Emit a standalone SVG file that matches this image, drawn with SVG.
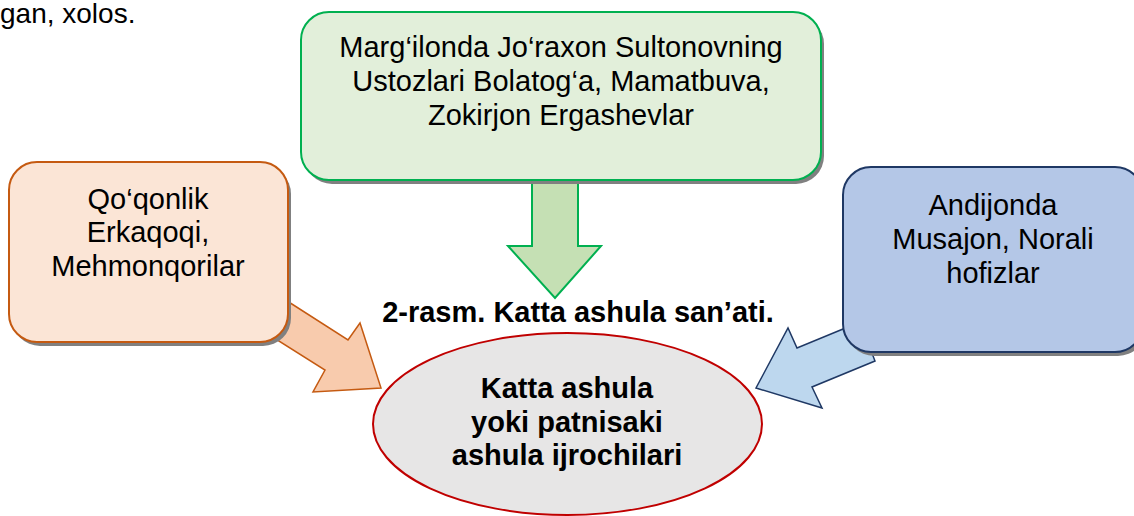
<svg xmlns="http://www.w3.org/2000/svg" width="1134" height="516" viewBox="0 0 1134 516">
<style>
  .t { font-family: "Liberation Sans", Arial, sans-serif; font-size: 29px; fill: #000; text-anchor: middle; }
  .b { font-weight: bold; }
  .shadow { fill: #808080; }
</style>
<rect width="1134" height="516" fill="#fff"/>
<text x="0" y="23" style="font-family:'Liberation Sans',Arial,sans-serif;font-size:28px;fill:#000">gan, xolos.</text>
<g id="connectors">
  <path d="M532,180 L578,180 L578,246 L601,246 L555,298 L508,246 L532,246 Z" fill="#c5e0b4" stroke="#00b050" stroke-width="2"/>
  <path d="M270,290 L348,340 L360,323 L381,388 L313,392 L325,370 L255,326 Z" fill="#f8cbad" stroke="#c55a11" stroke-width="1.5"/>
  <path d="M860,322 L797,348 L788,328 L756,388 L822,408 L812,387 L875,361 Z" fill="#bdd7ee" stroke="#1f3864" stroke-width="1.5"/>
</g>
<g id="node-green">
  <rect x="304" y="16" width="520" height="168" rx="28" class="shadow"/>
  <rect x="301" y="12" width="520" height="168" rx="28" fill="#e2efda" stroke="#00b050" stroke-width="2"/>
  <text class="t" x="561" y="57">Marg‘ilonda Jo‘raxon Sultonovning</text>
  <text class="t" x="561" y="91">Ustozlari Bolatog‘a, Mamatbuva,</text>
  <text class="t" x="561" y="125">Zokirjon Ergashevlar</text>
</g>
<g id="node-orange">
  <rect x="12" y="166" width="279" height="180" rx="28" class="shadow"/>
  <rect x="9" y="162" width="279" height="180" rx="28" fill="#fbe5d6" stroke="#c55a11" stroke-width="2"/>
  <text class="t" x="148" y="209">Qo‘qonlik</text>
  <text class="t" x="148" y="242">Erkaqoqi,</text>
  <text class="t" x="148" y="276">Mehmonqorilar</text>
</g>
<g id="node-blue">
  <rect x="846" y="171" width="300" height="185" rx="28" class="shadow"/>
  <rect x="843" y="167" width="300" height="185" rx="28" fill="#b4c7e7" stroke="#1f3864" stroke-width="2"/>
  <text class="t" x="993" y="215">Andijonda</text>
  <text class="t" x="993" y="249">Musajon, Norali</text>
  <text class="t" x="993" y="283">hofizlar</text>
</g>
<text class="t b" x="578" y="322">2-rasm. Katta ashula san’ati.</text>
<g id="node-ellipse">
  <ellipse cx="567.5" cy="424" rx="194.5" ry="91" fill="#e7e6e6" stroke="#c00000" stroke-width="2"/>
  <text class="t b" x="567" y="398">Katta ashula</text>
  <text class="t b" x="567" y="432">yoki patnisaki</text>
  <text class="t b" x="567" y="465">ashula ijrochilari</text>
</g>
</svg>
